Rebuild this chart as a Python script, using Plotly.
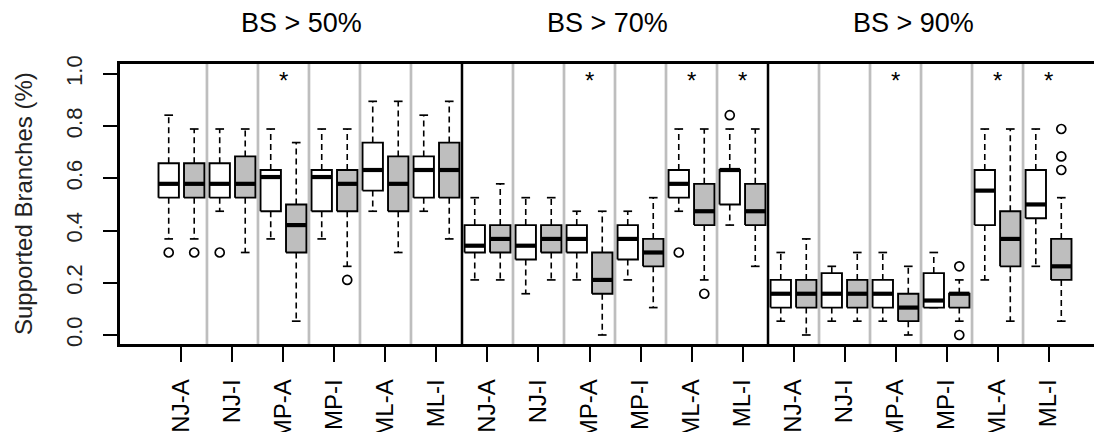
import plotly.graph_objects as go

# ---------------- data ----------------
thresholds = ["BS > 50%", "BS > 70%", "BS > 90%"]
methods = ["NJ-A", "NJ-I", "MP-A", "MP-I", "ML-A", "ML-I"]
significant = [False, False, True, False, False, False,
               False, False, True, False, True, True,
               False, False, True, False, True, True]

# white boxes (order: threshold x method)
white_lower = [0.368, 0.474, 0.368, 0.368, 0.474, 0.474,
               0.211, 0.158, 0.211, 0.211, 0.474, 0.421,
               0.053, 0.053, 0.053, 0.105, 0.211, 0.263]
white_q1 = [0.526, 0.526, 0.474, 0.474, 0.553, 0.526,
            0.316, 0.289, 0.316, 0.289, 0.526, 0.500,
            0.105, 0.105, 0.105, 0.105, 0.421, 0.447]
white_median = [0.579, 0.579, 0.605, 0.605, 0.632, 0.632,
                0.342, 0.342, 0.368, 0.368, 0.579, 0.632,
                0.158, 0.158, 0.158, 0.132, 0.553, 0.500]
white_q3 = [0.658, 0.658, 0.632, 0.632, 0.737, 0.684,
            0.421, 0.421, 0.421, 0.421, 0.632, 0.632,
            0.211, 0.237, 0.211, 0.237, 0.632, 0.632]
white_upper = [0.842, 0.789, 0.789, 0.789, 0.895, 0.842,
               0.526, 0.526, 0.474, 0.474, 0.789, 0.789,
               0.316, 0.263, 0.316, 0.316, 0.789, 0.789]
white_outliers = [[0.316], [0.316], [], [], [], [],
                  [], [], [], [], [0.316], [0.842],
                  [], [], [], [], [], []]

# grey boxes
grey_lower = [0.368, 0.316, 0.053, 0.263, 0.316, 0.368,
              0.211, 0.211, 0.000, 0.105, 0.211, 0.263,
              0.000, 0.053, 0.000, 0.053, 0.053, 0.053]
grey_q1 = [0.526, 0.526, 0.316, 0.474, 0.474, 0.526,
           0.316, 0.316, 0.158, 0.263, 0.421, 0.421,
           0.105, 0.105, 0.053, 0.105, 0.263, 0.211]
grey_median = [0.579, 0.579, 0.421, 0.579, 0.579, 0.632,
               0.368, 0.368, 0.211, 0.316, 0.474, 0.474,
               0.158, 0.158, 0.105, 0.158, 0.368, 0.263]
grey_q3 = [0.658, 0.684, 0.500, 0.632, 0.684, 0.737,
           0.421, 0.421, 0.316, 0.368, 0.579, 0.579,
           0.211, 0.211, 0.158, 0.158, 0.474, 0.368]
grey_upper = [0.789, 0.789, 0.737, 0.789, 0.895, 0.895,
              0.579, 0.526, 0.474, 0.526, 0.789, 0.789,
              0.368, 0.316, 0.263, 0.211, 0.789, 0.526]
grey_outliers = [[0.316], [], [], [0.211], [], [],
                 [], [], [], [], [0.158], [],
                 [], [], [], [0.263, 0.000], [], [0.789, 0.684, 0.632]]

y_ticks = [0.0, 0.2, 0.4, 0.6, 0.8, 1.0]

# ---------------- layout constants ----------------
FONT = "Liberation Sans, Arial, Helvetica, sans-serif"
BOX_HALF = 0.40
CAP_HALF = 0.17
GREY = "#BEBEBE"
n_m = len(methods)
per_panel = 2 * n_m


def box_x(offset):
    return [p * per_panel + m * 2 + offset + 1
            for p in range(len(thresholds)) for m in range(n_m)]


def series_traces(lower, q1, med, q3, upper, outl, offset, fill):
    xs = box_x(offset)
    wx, wy, cx, cy, bx, by, mx, my, ox, oy = [], [], [], [], [], [], [], [], [], []
    for i, x in enumerate(xs):
        if upper[i] > q3[i]:
            wx += [x, x, None]; wy += [q3[i], upper[i], None]
        if lower[i] < q1[i]:
            wx += [x, x, None]; wy += [q1[i], lower[i], None]
        for v in (upper[i], lower[i]):
            cx += [x - CAP_HALF, x + CAP_HALF, None]; cy += [v, v, None]
        bx += [x - BOX_HALF, x + BOX_HALF, x + BOX_HALF, x - BOX_HALF, x - BOX_HALF, None]
        by += [q1[i], q1[i], q3[i], q3[i], q1[i], None]
        mx += [x - BOX_HALF, x + BOX_HALF, None]; my += [med[i], med[i], None]
        for v in outl[i]:
            ox.append(x); oy.append(v)
    return [
        go.Scatter(x=wx, y=wy, mode="lines", line=dict(color="black", width=1.6, dash="6px,4px"),
                   hoverinfo="skip", showlegend=False),
        go.Scatter(x=cx, y=cy, mode="lines", line=dict(color="black", width=1.7),
                   hoverinfo="skip", showlegend=False),
        go.Scatter(x=bx, y=by, mode="lines", fill="toself", fillcolor=fill,
                   line=dict(color="black", width=1.9), hoverinfo="skip", showlegend=False),
        go.Scatter(x=mx, y=my, mode="lines", line=dict(color="black", width=4.2),
                   hoverinfo="skip", showlegend=False),
        go.Scatter(x=ox, y=oy, mode="markers",
                   marker=dict(symbol="circle-open", size=9, color="black", line=dict(width=1.7)),
                   hoverinfo="skip", showlegend=False),
    ]


fig = go.Figure()
for t in series_traces(white_lower, white_q1, white_median, white_q3, white_upper,
                       white_outliers, 0, "white"):
    fig.add_trace(t)
for t in series_traces(grey_lower, grey_q1, grey_median, grey_q3, grey_upper,
                       grey_outliers, 1, GREY):
    fig.add_trace(t)

group_centers = [p * per_panel + m * 2 + 1.5
                 for p in range(len(thresholds)) for m in range(n_m)]

shapes = []
for p in range(len(thresholds)):
    for m in range(1, n_m):
        xv = p * per_panel + m * 2 + 0.5
        shapes.append(dict(type="line", xref="x", yref="paper", x0=xv, x1=xv, y0=0, y1=1,
                           line=dict(color=GREY, width=2.7), layer="below"))
    if p > 0:
        xv = p * per_panel + 0.5
        shapes.append(dict(type="line", xref="x", yref="paper", x0=xv, x1=xv, y0=0, y1=1,
                           line=dict(color="black", width=2.5), layer="above"))

annotations = []
for p, name in enumerate(thresholds):
    annotations.append(dict(text=name, x=p * per_panel + 6.5 - 0.3, xref="x",
                            y=1, yref="paper", yshift=41, yanchor="middle",
                            showarrow=False, font=dict(family=FONT, size=27, color="black")))
for g, flag in enumerate(significant):
    if flag:
        annotations.append(dict(text="*", x=group_centers[g], xref="x", y=0.976, yref="y",
                                yanchor="middle", showarrow=False,
                                font=dict(family=FONT, size=24, color="black")))
annotations.append(dict(text="Supported Branches (%)", textangle=-90, x=0, xref="paper",
                        xshift=-97, xanchor="center", y=0.5, yref="paper", yanchor="middle",
                        showarrow=False, font=dict(family=FONT, size=24, color="#222")))

# the page body adds an 8px offset; margins compensate so the plot box sits at 120..,64..344
fig.update_layout(
    width=1102, height=432,
    margin=dict(l=112, r=0, t=56, b=96),
    paper_bgcolor="white", plot_bgcolor="white",
    shapes=shapes, annotations=annotations,
    font=dict(family=FONT, color="black"),
    xaxis=dict(range=[-0.91, 37.91], showgrid=False, zeroline=False, automargin=False,
               showline=True, mirror=True, linecolor="black", linewidth=2.5,
               tickmode="array", tickvals=group_centers, ticktext=methods * len(thresholds),
               ticks="outside", ticklen=15, tickwidth=1.5, tickcolor="black",
               tickangle=-90, ticklabelstandoff=8,
               tickfont=dict(family=FONT, size=24, color="black")),
    yaxis=dict(range=[-0.0345, 1.038], showgrid=False, zeroline=False, automargin=False,
               showline=True, linecolor="black", linewidth=2.5,
               tickmode="array", tickvals=y_ticks, ticktext=["%.1f" % v for v in y_ticks],
               ticks="outside", ticklen=14, tickwidth=1.5, tickcolor="black",
               tickangle=-90, ticklabelstandoff=12,
               tickfont=dict(family=FONT, size=22, color="#222")),
)

fig.write_html("out.html")
